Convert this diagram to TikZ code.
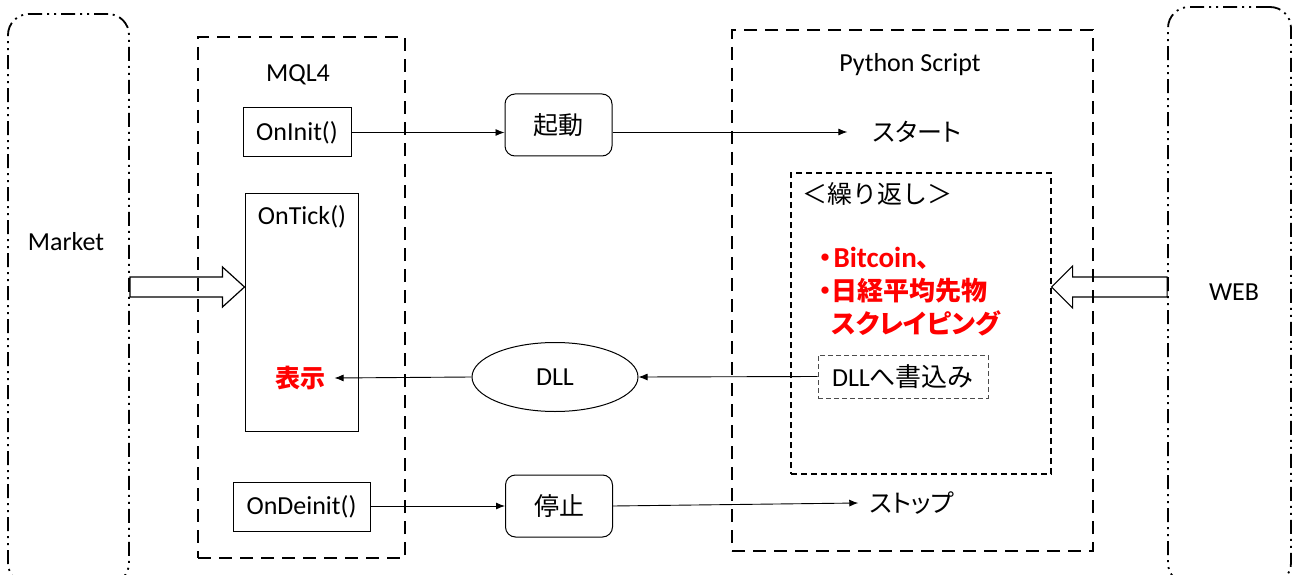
\documentclass[tikz,border=0pt]{standalone}
\usepackage{fontspec}
\setmainfont{Carlito}
\newfontfamily\cjk{Noto Sans CJK JP}
\newfontfamily\cjkp[RawFeature=+palt]{Noto Sans CJK JP}
\usetikzlibrary{shapes.geometric,arrows.meta}
\begin{document}
\begin{tikzpicture}[x=1pt,y=-1pt,
  every node/.style={font=\fontsize{26}{30}\selectfont},
  outerbox/.style={draw, line width=1.8pt, rounded corners=21pt, inner sep=0pt,
    dash pattern=on 14pt off 5pt on 2pt off 5pt on 2pt off 5pt},
  groupbox/.style={draw, line width=1.8pt, inner sep=0pt, dash pattern=on 13pt off 8pt},
  loopbox/.style={draw, line width=1.2pt, inner sep=0pt, dash pattern=on 6pt off 4pt},
  funcbox/.style={draw, line width=1pt, inner sep=0pt},
  procbox/.style={draw, line width=1pt, rounded corners=10pt, inner sep=0pt,
    minimum width=107pt, minimum height=62pt},
  dllbox/.style={draw=black!70, line width=1pt, inner sep=0pt, dash pattern=on 5pt off 3pt,
    minimum width=170pt, minimum height=43pt},
  conn/.style={line width=0.9pt, -{Latex[length=9pt,width=7pt]}},
  blockarrow/.style={draw, line width=1.2pt, line join=miter},
  jp/.style={font=\cjk\fontsize{25}{30}\selectfont},
  jpp/.style={font=\cjkp\fontsize{25}{30}\selectfont},
  redtxt/.style={text=red, align=left, font=\cjkp\bfseries\fontsize{26}{33}\selectfont}
]
\useasboundingbox (0,0) rectangle (1293,575);

% outer side boxes
\node[outerbox, minimum width=121pt, minimum height=570pt] (market) at (68.5,299) {};
\node[outerbox, minimum width=123pt, minimum height=577pt] (web) at (1229.5,295.5) {};
\node (markettxt) at (66,242) {Market};
\node (webtxt) at (1234,292) {WEB};

% group boxes
\node[groupbox, minimum width=207pt, minimum height=521pt] (mql) at (301.5,297.5) {};
\node[groupbox, minimum width=361pt, minimum height=521pt] (py) at (912.5,290.5) {};
\node[loopbox, minimum width=260pt, minimum height=301pt] (loop) at (921,323.5) {};
\node (mqltxt) at (298,75) {MQL4};
\node (pytxt) at (910,65) {Python Script};
\node[jp] (looptxt) at (877,194) {＜繰り返し＞};

% MQL4 functions
\node[funcbox, minimum width=108pt, minimum height=49pt] (oninit) at (297,132.5) {OnInit()};
\node[funcbox, minimum width=113pt, minimum height=238pt] (ontick) at (301.5,312) {};
\node (ontickl) at (302,217) {OnTick()};
\node[funcbox, minimum width=137pt, minimum height=49pt] (ondeinit) at (301.5,506.5) {OnDeinit()};
\node[text=red, font=\cjk\bfseries\fontsize{25}{30}\selectfont] (hyoji) at (300,378) {表示};

% process boxes
\node[procbox, jp] (kido) at (558.5,125) {起動};
\node[procbox, jp] (teishi) at (559,506) {停止};
\node[draw, ellipse, line width=1pt, inner sep=0pt, minimum width=166pt, minimum height=69pt] (dll) at (555,377) {DLL};

% python side
\node[jpp] (start) at (917,132) {スタート};
\node[jpp] (stop) at (912,503) {ストップ};
\node[dllbox] (dllw) at (903,376.5) {DLL{\cjk へ書込み}};
\node[redtxt, anchor=west] (scrape) at (815,292)
  {・\hspace{2pt}{\fontspec{Carlito}\bfseries\fontsize{29}{33}\selectfont Bitcoin}、\\・日経平均先物\\\hphantom{・}スクレイピング};

% connectors
\draw[conn] (oninit.east) -- (oninit.east -| kido.west);
\draw[conn] (kido.east |- start) -- ([xshift=-22pt]start.west);
\draw[conn] (ondeinit.east |- teishi) -- (teishi.west);
\draw[conn] (teishi.east) -- ([xshift=-8pt]stop.west);
\draw[conn] (dllw.west) -- (dll.east);
\draw[conn] (dll.west) -- ([xshift=6pt]hyoji.east);

% block arrows
\path (market.east |- 0,287) coordinate (ma0) (ontick.west |- 0,287) coordinate (ma1);
\draw[blockarrow] ([yshift=10pt]ma0) -- ([xshift=-22pt,yshift=10pt]ma1)
  -- ([xshift=-22pt,yshift=20pt]ma1) -- (ma1) -- ([xshift=-22pt,yshift=-20pt]ma1)
  -- ([xshift=-22pt,yshift=-10pt]ma1) -- ([yshift=-10pt]ma0) -- cycle;
\path (web.west |- 0,287) coordinate (wa0) (loop.east |- 0,287) coordinate (wa1);
\draw[blockarrow] ([yshift=10pt]wa0) -- ([xshift=21pt,yshift=10pt]wa1)
  -- ([xshift=21pt,yshift=21pt]wa1) -- (wa1) -- ([xshift=21pt,yshift=-21pt]wa1)
  -- ([xshift=21pt,yshift=-10pt]wa1) -- ([yshift=-10pt]wa0) -- cycle;
\end{tikzpicture}
\end{document}
